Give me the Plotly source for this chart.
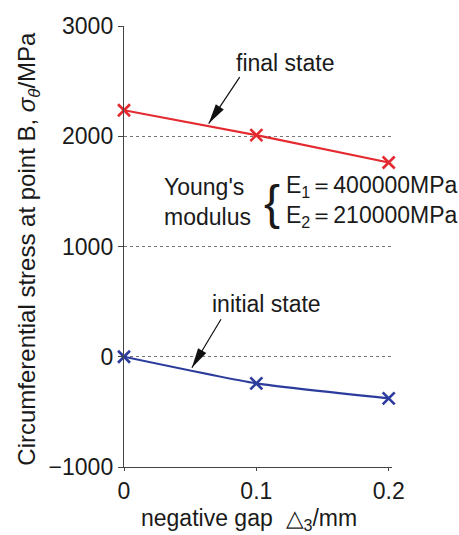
import math
import plotly.graph_objects as go

# Negative gap values (mm)
gap = [0.0, 0.1, 0.2]
# Circumferential stress at point B (MPa)
final_state = [2236, 2010, 1762]
initial_state = [0, -242, -378]

y_ticks = [-1000, 0, 1000, 2000, 3000]
y_tick_text = ["\u22121000", "0", "1000", "2000", "3000"]
x_ticks = [0, 0.1, 0.2]
x_tick_text = ["0", "0.1", "0.2"]

FONT = "Liberation Sans, Arial, Helvetica, sans-serif"
TXT = "#1a1a1a"
RED = "#e42a30"
BLUE = "#2c3c9c"

fig = go.Figure()
fig.add_trace(go.Scatter(
    x=gap, y=final_state, mode="lines+markers",
    line=dict(color=RED, width=2.2),
    marker=dict(symbol="x-thin", size=12, line=dict(color=RED, width=2.6)),
    cliponaxis=False, showlegend=False,
))
fig.add_trace(go.Scatter(
    x=gap, y=initial_state, mode="lines+markers",
    line=dict(color=BLUE, width=2.2, shape="spline", smoothing=0.5),
    marker=dict(symbol="x-thin", size=12, line=dict(color=BLUE, width=2.6)),
    cliponaxis=False, showlegend=False,
))

ann_font = dict(family=FONT, size=23, color=TXT)
ARROW_COLOR = "#111"


def pointer(tip_x, tip_y, off_x, off_y, head_len=20, head_half=4.8):
    """Leader line from a label to (tip_x, tip_y) with a long, narrow head.
    off_x/off_y: tail offset from the tip in screen pixels (y down)."""
    ann = dict(x=tip_x, y=tip_y, ax=off_x, ay=off_y, text="", showarrow=True,
               arrowhead=0, arrowwidth=1.2, arrowcolor=ARROW_COLOR)
    # direction tip -> tail in y-up pixel space
    dx, dy = off_x, -off_y
    n = math.hypot(dx, dy)
    ux, uy = dx / n, dy / n
    bx, by = ux * head_len, uy * head_len
    px, py = -uy * head_half, ux * head_half
    path = (f"M0,0 L{bx + px:.2f},{by + py:.2f} "
            f"L{bx - px:.2f},{by - py:.2f} Z")
    shape = dict(type="path", path=path, xsizemode="pixel", ysizemode="pixel",
                 xanchor=tip_x, yanchor=tip_y, xref="x", yref="y",
                 fillcolor=ARROW_COLOR, line=dict(width=0))
    return ann, shape


arrow_final, head_final = pointer(0.064, 2115, 32, -48)
arrow_init, head_init = pointer(0.0513, -100, 30, -50)

annotations = [
    # series labels
    dict(x=0.1215, y=2668, text="final state", showarrow=False, font=ann_font),
    dict(x=0.108, y=474, text="initial state", showarrow=False, font=ann_font),
    arrow_final, arrow_init,
    # Young's modulus note
    dict(x=0.0287, y=1544, text="Young's", showarrow=False, xanchor="left", font=ann_font),
    dict(x=0.0287, y=1272, text="modulus", showarrow=False, xanchor="left", font=ann_font),
    dict(x=0.1115, y=1400, text="{", showarrow=False,
         font=dict(family=FONT, size=48, color=TXT)),
    dict(x=0.121, y=1544, text="E<sub>1</sub>\uff1d400000MPa", showarrow=False,
         xanchor="left", font=ann_font),
    dict(x=0.121, y=1272, text="E<sub>2</sub>\uff1d210000MPa", showarrow=False,
         xanchor="left", font=ann_font),
    # axis titles
    dict(xref="paper", yref="paper", x=-0.42, y=0.495, textangle=-90,
         text="Circumferential stress at point B, <i>\u03c3</i><sub><i>\u03b8</i></sub>/MPa",
         showarrow=False, font=dict(family=FONT, size=24, color=TXT)),
    dict(xref="paper", yref="paper", x=0.465, y=-0.12, yanchor="middle",
         text="negative gap  \u25b3<sub>3</sub>/mm", showarrow=False, font=ann_font),
]

fig.update_layout(
    width=459, height=535,
    margin=dict(l=124, r=67, t=26, b=68),
    paper_bgcolor="white", plot_bgcolor="white",
    font=dict(family=FONT, size=23, color=TXT),
    annotations=annotations,
    shapes=[head_final, head_init],
)
fig.update_xaxes(
    range=[0, 0.2025], tickvals=x_ticks, ticktext=x_tick_text,
    showgrid=False, zeroline=False,
    showline=True, linecolor="#444", linewidth=1.4,
    ticks="outside", ticklen=3, tickcolor="#444",
    tickfont=dict(family=FONT, size=23, color=TXT),
)
fig.update_yaxes(
    range=[-1000, 3000], tickvals=y_ticks, ticktext=y_tick_text,
    showgrid=True, gridcolor="#777", gridwidth=1, griddash="dot",
    zeroline=False,
    showline=True, linecolor="#444", linewidth=1.4,
    ticks="outside", ticklen=5, tickcolor="#444",
    tickfont=dict(family=FONT, size=23, color=TXT),
)

fig.write_html("out.html")
